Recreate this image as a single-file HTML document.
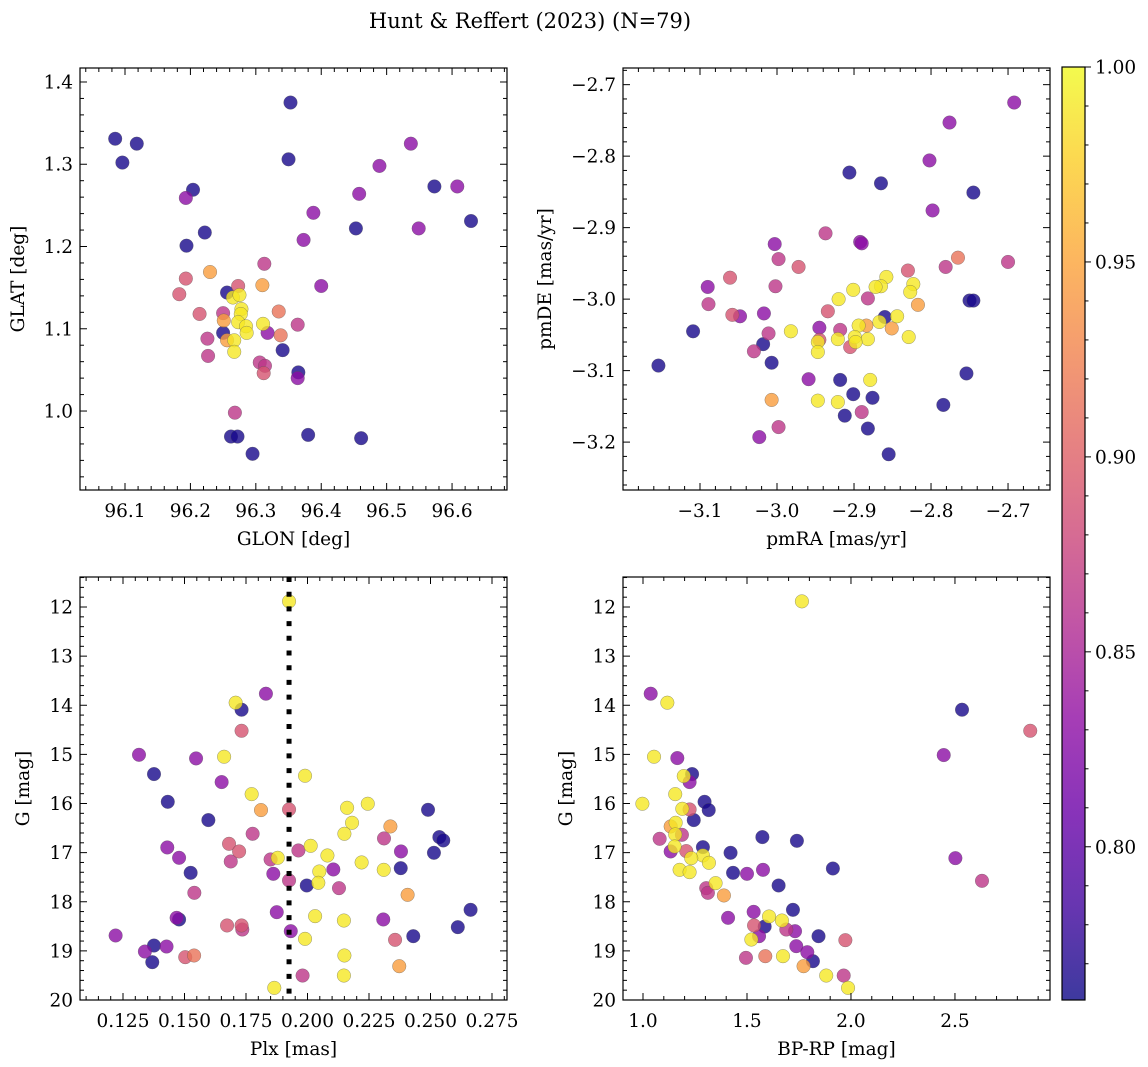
<!DOCTYPE html>
<html><head><meta charset="utf-8"><style>
html,body{margin:0;padding:0;background:#fff}
svg{display:block;font-family:"DejaVu Serif","Liberation Serif",serif}
</style></head><body>
<svg id="fig" width="1148" height="1067" viewBox="0 0 1148 1067" xmlns="http://www.w3.org/2000/svg">
<defs><linearGradient id="plasma" x1="0" y1="1" x2="0" y2="0">
<stop offset="0" stop-color="#0d0887"/><stop offset="0.1" stop-color="#41049d"/><stop offset="0.2" stop-color="#6a00a8"/><stop offset="0.3" stop-color="#8f0da4"/><stop offset="0.4" stop-color="#b12a90"/><stop offset="0.5" stop-color="#cc4778"/><stop offset="0.6" stop-color="#e16462"/><stop offset="0.7" stop-color="#f2844b"/><stop offset="0.8" stop-color="#fca636"/><stop offset="0.9" stop-color="#fcce25"/><stop offset="1" stop-color="#f0f921"/>
</linearGradient></defs>
<text x="530" y="28" font-size="21" text-anchor="middle">Hunt &amp; Reffert (2023) (N=79)</text>
</svg>
<script>
const B=0.765,P=0.83,M=0.865,K=0.89,S=0.915,O=0.945,Y=0.99;
// Panel 1: GLON vs GLAT
const glon=[96.085,96.118,96.096,96.353,96.350,96.537,96.489,96.573,96.608,96.458,96.204,96.193,96.388,96.453,96.549,96.629,96.373,96.222,96.194,96.313,96.230,96.193,96.183,96.310,96.400,96.256,96.273,96.265,96.275,96.214,96.250,96.251,96.278,96.277,96.335,96.364,96.311,96.273,96.285,96.286,96.318,96.338,96.250,96.256,96.226,96.267,96.267,96.227,96.341,96.306,96.314,96.312,96.365,96.364,96.268,96.262,96.272,96.295,96.380,96.461];
const glat=[1.331,1.325,1.302,1.375,1.306,1.325,1.298,1.273,1.273,1.264,1.269,1.259,1.241,1.222,1.222,1.231,1.208,1.217,1.201,1.179,1.169,1.161,1.142,1.153,1.152,1.144,1.152,1.138,1.141,1.118,1.119,1.110,1.124,1.118,1.121,1.105,1.106,1.108,1.103,1.095,1.095,1.092,1.095,1.086,1.088,1.086,1.072,1.067,1.074,1.059,1.055,1.046,1.047,1.040,0.998,0.969,0.969,0.948,0.971,0.967];
const prob1=[B,B,B,B,B,P,P,B,P,P,B,P,P,B,P,B,P,B,B,M,O,K,K,O,P,B,K,Y,Y,K,M,O,Y,Y,S,M,Y,Y,Y,Y,P,S,B,O,M,Y,Y,M,B,M,M,K,B,P,M,B,B,B,B,B];
// Panel 2: pmRA vs pmDE
const pmra=[-2.692,-2.776,-2.802,-2.906,-2.865,-2.745,-2.798,-2.937,-3.003,-2.892,-2.890,-2.998,-2.972,-2.765,-2.781,-2.700,-2.830,-3.061,-3.090,-3.002,-2.858,-2.865,-2.872,-2.823,-2.827,-2.901,-2.920,-2.882,-2.750,-2.745,-2.817,-3.089,-2.934,-3.058,-3.048,-3.017,-2.860,-2.844,-2.867,-2.884,-2.894,-2.851,-3.109,-2.982,-2.945,-2.918,-3.011,-2.945,-2.947,-2.921,-2.899,-2.882,-2.898,-2.829,-2.905,-2.947,-3.018,-3.030,-3.007,-3.154,-2.754,-2.959,-2.918,-2.879,-2.901,-2.876,-3.007,-2.947,-2.921,-2.784,-2.890,-2.912,-2.998,-2.882,-3.023,-2.855];
const pmde=[-2.725,-2.753,-2.806,-2.823,-2.838,-2.851,-2.876,-2.908,-2.923,-2.920,-2.922,-2.944,-2.955,-2.942,-2.955,-2.948,-2.960,-2.970,-2.983,-2.982,-2.969,-2.982,-2.983,-2.979,-2.990,-2.987,-3.000,-2.999,-3.002,-3.002,-3.008,-3.007,-3.017,-3.022,-3.024,-3.020,-3.025,-3.024,-3.032,-3.037,-3.037,-3.041,-3.045,-3.045,-3.040,-3.043,-3.048,-3.057,-3.060,-3.056,-3.053,-3.056,-3.060,-3.053,-3.067,-3.074,-3.063,-3.073,-3.089,-3.093,-3.104,-3.112,-3.113,-3.113,-3.133,-3.138,-3.141,-3.142,-3.144,-3.148,-3.158,-3.163,-3.179,-3.181,-3.193,-3.217];
const prob2=[P,P,P,B,B,B,P,M,P,P,P,M,K,S,M,M,K,K,P,M,Y,Y,Y,Y,Y,Y,Y,M,B,B,O,M,K,K,P,P,B,Y,Y,O,Y,O,B,Y,P,M,M,K,Y,Y,Y,Y,Y,Y,K,Y,B,M,B,B,B,P,B,Y,B,B,O,Y,Y,B,M,B,M,B,P,B];
// Panel 3: Plx vs G
const plx=[0.1925,0.1831,0.1708,0.1732,0.1732,0.1315,0.1547,0.1661,0.1376,0.1990,0.1651,0.1773,0.1432,0.1811,0.1925,0.2161,0.2245,0.2490,0.1597,0.2181,0.2337,0.2150,0.1777,0.2311,0.2536,0.2552,0.1681,0.1722,0.1430,0.2013,0.1963,0.2380,0.2514,0.1478,0.2081,0.1850,0.1879,0.1688,0.2220,0.2310,0.2379,0.2105,0.1525,0.1861,0.2048,0.1925,0.1997,0.2044,0.2128,0.1540,0.2407,0.1875,0.2663,0.2031,0.2148,0.2308,0.1468,0.1478,0.1673,0.1732,0.1735,0.2611,0.1932,0.1220,0.2430,0.1990,0.1376,0.1427,0.2356,0.1339,0.1369,0.2150,0.1503,0.1539,0.2373,0.1980,0.2148,0.1865];
const gmag3=[11.885,13.765,13.948,14.091,14.519,15.008,15.082,15.048,15.401,15.435,15.564,15.809,15.965,16.134,16.121,16.087,16.005,16.128,16.338,16.392,16.467,16.616,16.616,16.711,16.684,16.752,16.820,16.976,16.895,16.861,16.956,16.976,17.003,17.105,17.058,17.139,17.105,17.180,17.200,17.350,17.316,17.343,17.411,17.431,17.384,17.567,17.669,17.614,17.723,17.818,17.859,18.212,18.164,18.293,18.382,18.361,18.327,18.361,18.483,18.483,18.565,18.517,18.599,18.687,18.701,18.755,18.891,18.911,18.775,19.013,19.230,19.094,19.128,19.094,19.312,19.502,19.502,19.753];
const prob3=[Y,P,Y,B,K,P,P,Y,B,Y,P,Y,B,O,K,Y,Y,B,B,Y,O,Y,M,M,B,B,K,K,P,Y,M,P,B,P,Y,M,Y,M,Y,Y,B,P,B,P,Y,M,B,Y,M,M,O,P,B,Y,Y,P,P,B,K,K,M,B,P,P,B,Y,B,P,K,P,B,Y,K,S,O,M,Y,Y];
const plxRef=[0.1925];
// Panel 4: BP-RP vs G
const bprp=[1.764,1.037,1.117,2.534,2.862,2.446,1.053,1.165,1.236,1.196,1.224,1.155,1.296,0.997,1.316,1.224,1.189,1.244,1.133,1.157,1.574,1.740,1.187,1.155,1.080,1.288,1.152,1.133,1.208,1.421,1.288,1.232,2.502,1.317,1.913,1.577,1.176,1.224,1.433,1.500,2.630,1.652,1.349,1.304,1.312,1.389,1.721,1.532,1.409,1.606,1.668,1.585,1.534,1.689,1.731,1.558,1.844,1.521,1.973,1.737,1.790,1.817,1.495,1.588,1.673,1.772,1.881,1.965,1.986];
const gmag4=[11.885,13.765,13.948,14.091,14.519,15.014,15.048,15.075,15.401,15.442,15.564,15.809,15.965,16.005,16.134,16.121,16.107,16.338,16.467,16.392,16.684,16.759,16.637,16.630,16.718,16.888,16.874,16.976,16.969,17.003,17.058,17.112,17.112,17.207,17.323,17.350,17.350,17.397,17.411,17.431,17.574,17.669,17.621,17.723,17.818,17.872,18.164,18.205,18.327,18.300,18.382,18.504,18.483,18.565,18.599,18.701,18.701,18.769,18.782,18.904,19.027,19.210,19.142,19.108,19.108,19.312,19.502,19.502,19.753];
const prob4=[Y,P,Y,B,K,P,Y,P,B,Y,P,Y,B,Y,B,K,Y,B,O,Y,B,B,M,Y,M,B,Y,P,K,B,Y,Y,P,Y,B,P,Y,Y,B,P,M,B,Y,M,M,O,B,P,P,Y,Y,B,K,M,P,P,B,Y,K,P,P,B,M,S,Y,O,Y,M,Y];
const cbTicks=[0.80,0.85,0.90,0.95,1.00];
const VMIN=0.7607,VMAX=1.0;

const NS='http://www.w3.org/2000/svg';
const svg=document.getElementById('fig');
function mk(tag,attrs,parent){const e=document.createElementNS(NS,tag);for(const k in attrs)e.setAttribute(k,attrs[k]);(parent||svg).appendChild(e);return e;}
const stops=['#0d0887','#41049d','#6a00a8','#8f0da4','#b12a90','#cc4778','#e16462','#f2844b','#fca636','#fcce25','#f0f921'];
function hx(h){return[parseInt(h.substr(1,2),16),parseInt(h.substr(3,2),16),parseInt(h.substr(5,2),16)];}
function plasma(v){let t=(v-VMIN)/(VMAX-VMIN);t=Math.max(0,Math.min(1,t));const f=t*10,i=Math.min(9,Math.floor(f)),r=f-i;const a=hx(stops[i]),b=hx(stops[i+1]);return 'rgb('+a.map((c,j)=>Math.round(c+(b[j]-c)*r)).join(',')+')';}
function fmt(v,d){const s=v.toFixed(d);return v<0?'\u2212'+s.slice(1):s;}
const FS=18.5;

function panel(o){
  const g=mk('g',{});
  
  
  const sx=v=>o.x0+(v-o.xmin)/(o.xmax-o.xmin)*(o.x1-o.x0);
  const sy=v=>o.inv? o.y0+(v-o.ymin)/(o.ymax-o.ymin)*(o.y1-o.y0) : o.y1-(v-o.ymin)/(o.ymax-o.ymin)*(o.y1-o.y0);
  const pg=mk('g',{},g);
  
  
  const idx=o.xs.map((_,i)=>i).sort((a,b)=>o.cs[a]-o.cs[b]);
  idx.forEach(i=>{
    const c=mk('circle',{cx:sx(o.xs[i]),cy:sy(o.ys[i]),r:6.8,fill:plasma(o.cs[i]),'fill-opacity':0.8,stroke:'#555','stroke-opacity':0.6,'stroke-width':0.5},pg);
    
    
  });
  if(o.vline){o.vline.forEach(v=>{const l=mk('line',{x1:sx(v),x2:sx(v),y1:o.y0,y2:o.y1,stroke:'#000','stroke-width':5,'stroke-dasharray':'5 9.7'},g);
    
    });}
  const fr=mk('rect',{x:o.x0,y:o.y0,width:o.x1-o.x0,height:o.y1-o.y0,fill:'none',stroke:'#000','stroke-width':1.2},g);
  
  
  const eps=1e-9;
  const xmn=Math.ceil(o.xmin/o.xminor-eps);
  for(let k=xmn;k*o.xminor<=o.xmax+eps;k++){const v=k*o.xminor;const X=sx(v);const maj=Math.abs(v/o.xmajor-Math.round(v/o.xmajor))<1e-6;const L=maj?7:4;
    mk('line',{x1:X,x2:X,y1:o.y1,y2:o.y1-L,stroke:'#000','stroke-width':1},g);
    mk('line',{x1:X,x2:X,y1:o.y0,y2:o.y0+L,stroke:'#000','stroke-width':1},g);
    if(maj && X>o.x0+4 && X<o.x1-4){const t=mk('text',{x:X,y:o.y1+27,'font-size':FS,'text-anchor':'middle'},g);t.textContent=fmt(v,o.xd);
      
      }}
  const ymn=Math.ceil(o.ymin/o.yminor-eps);
  for(let k=ymn;k*o.yminor<=o.ymax+eps;k++){const v=k*o.yminor;const Yp=sy(v);const maj=Math.abs(v/o.ymajor-Math.round(v/o.ymajor))<1e-6;const L=maj?7:4;
    mk('line',{x1:o.x0,x2:o.x0+L,y1:Yp,y2:Yp,stroke:'#000','stroke-width':1},g);
    mk('line',{x1:o.x1,x2:o.x1-L,y1:Yp,y2:Yp,stroke:'#000','stroke-width':1},g);
    if(maj){const t=mk('text',{x:o.x0-7,y:Yp+6.5,'font-size':FS,'text-anchor':'end'},g);t.textContent=fmt(v,o.yd);
      
      }}
  const xl=mk('text',{x:(o.x0+o.x1)/2,y:o.y1+55,'font-size':FS,'text-anchor':'middle'},g);xl.textContent=o.xlabel;
  
  
  const yx=o.ylx,yy=(o.y0+o.y1)/2;
  const yl=mk('text',{x:yx,y:yy,'font-size':FS,'text-anchor':'middle',transform:'rotate(-90 '+yx+' '+yy+')'},g);yl.textContent=o.ylabel;
  
  
}
panel({name:'glon-glat-panel',x0:80,x1:507,y0:68,y1:490,xmin:96.0312,xmax:96.684,ymin:0.904,ymax:1.417,xmajor:0.1,xminor:0.02,ymajor:0.1,yminor:0.02,xd:1,yd:1,xs:glon,ys:glat,cs:prob1,xlabel:'GLON [deg]',ylabel:'GLAT [deg]',ylx:24});
panel({name:'proper-motion-panel',x0:623,x1:1050,y0:68,y1:490,xmin:-3.2,xmax:-2.6455,ymin:-3.267,ymax:-2.6767,xmajor:0.1,xminor:0.02,ymajor:0.1,yminor:0.02,xd:1,yd:1,xs:pmra,ys:pmde,cs:prob2,xlabel:'pmRA [mas/yr]',ylabel:'pmDE [mas/yr]',ylx:551});
panel({name:'parallax-magnitude-panel',x0:80,x1:507,y0:577,y1:1000,xmin:0.10752,xmax:0.2811,ymin:11.389,ymax:20.0,inv:true,xmajor:0.025,xminor:0.005,ymajor:1,yminor:0.2,xd:3,yd:0,xs:plx,ys:gmag3,cs:prob3,xlabel:'Plx [mas]',ylabel:'G [mag]',ylx:29,vline:plxRef});
panel({name:'color-magnitude-panel',x0:623,x1:1050,y0:577,y1:1000,xmin:0.9038,xmax:2.957,ymin:11.389,ymax:20.0,inv:true,xmajor:0.5,xminor:0.1,ymajor:1,yminor:0.2,xd:1,yd:0,xs:bprp,ys:gmag4,cs:prob4,xlabel:'BP-RP [mag]',ylabel:'G [mag]',ylx:572});
const cb=mk('g',{});


const cbx0=1062,cbx1=1085,cby0=67,cby1=1000;
const cr=mk('rect',{x:cbx0,y:cby0,width:cbx1-cbx0,height:cby1-cby0,fill:'url(#plasma)','fill-opacity':0.8,stroke:'#000','stroke-width':1.2},cb);


const cy=v=>cby1-(v-VMIN)/(VMAX-VMIN)*(cby1-cby0);
for(let k=Math.ceil(VMIN/0.01-1e-9);k<=100;k++){const v=k/100;const Yp=cy(v);const maj=k%5===0;
  mk('line',{x1:cbx1,x2:cbx1+(maj?6:3.5),y1:Yp,y2:Yp,stroke:'#000','stroke-width':1},cb);}
cbTicks.forEach(v=>{const t=mk('text',{x:cbx1+10,y:cy(v)+6.5,'font-size':FS},cb);t.textContent=v.toFixed(2);
  
  });
</script>
</body></html>
